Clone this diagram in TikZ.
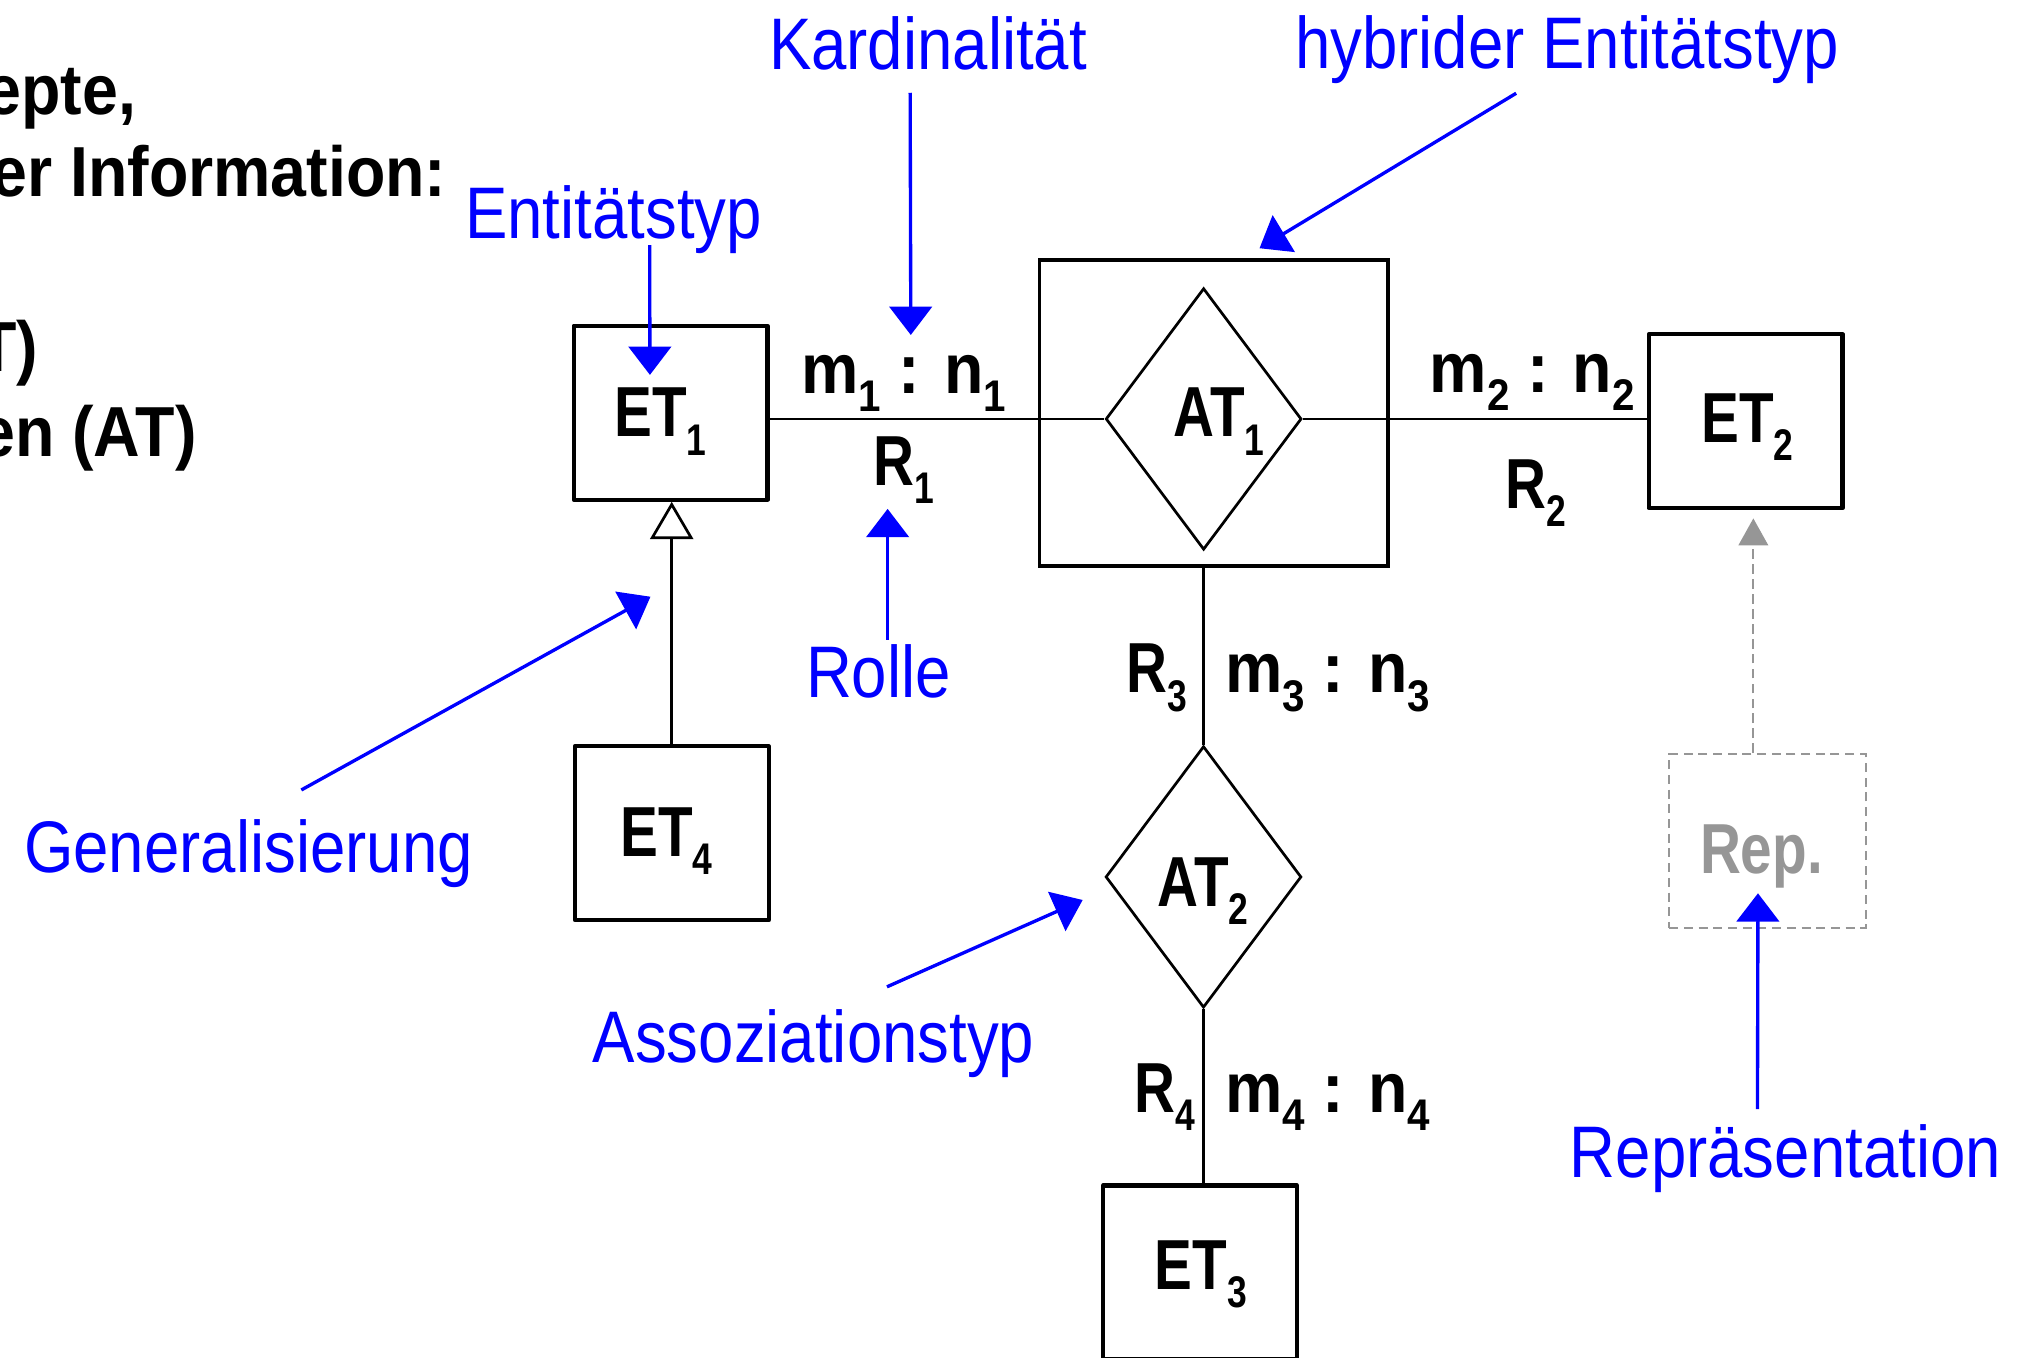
\documentclass[tikz,border=0pt]{standalone}
\usepackage{fontspec}
\setmainfont{Liberation Sans}
\newfontfamily\lblfont{Liberation Sans}[FakeStretch=0.87]
\newfontfamily\narrowbold{Liberation Sans}[FakeStretch=0.8]
\newfontfamily\widebold{Liberation Sans}[FakeStretch=0.91]
\usetikzlibrary{shapes.geometric,arrows.meta}
\definecolor{annot}{RGB}{0,0,255}
\definecolor{repgray}{RGB}{150,150,150}
% lowered index digit
\newcommand{\lo}[1]{\raisebox{-7.1pt}{\fontsize{17.2pt}{17.2pt}\selectfont #1}}
\tikzset{
  etbox/.style={draw, line width=1.6pt, line join=round, minimum width=75.2pt,
    minimum height=67.5pt, inner sep=0pt},
  hybbox/.style={draw, line width=1.3pt, minimum width=135.2pt,
    minimum height=118.75pt, inner sep=0pt},
  relshape/.style={draw, diamond, line width=1.05pt, minimum width=76pt,
    minimum height=101.5pt, inner sep=0pt},
  repbox/.style={draw=repgray, line width=0.8pt, dash pattern=on 3.5pt off 2.2pt,
    minimum width=76.2pt, minimum height=67.5pt, inner sep=0pt},
  conn/.style={line width=1.05pt},
  pointer/.style={draw=annot, line width=1.3pt,
    -{Triangle[length=11pt,width=16.5pt,fill=annot]}},
  reparrow/.style={draw=repgray, line width=0.8pt, dash pattern=on 3.8pt off 2pt,
    -{Triangle[length=10.5pt,width=11.5pt,fill=repgray]}},
  bluetxt/.style={text=annot, anchor=base, inner sep=0pt,
    font=\lblfont\fontsize{28.35pt}{30pt}\selectfont},
  boxtxt/.style={anchor=base, inner sep=0pt,
    font=\narrowbold\bfseries\fontsize{27.5pt}{30pt}\selectfont},
  cardtxt/.style={anchor=base, inner sep=0pt,
    font=\widebold\bfseries\fontsize{27.5pt}{30pt}\selectfont},
  headtxt/.style={anchor=base east, inner sep=0pt,
    font=\widebold\bfseries\fontsize{27.5pt}{30pt}\selectfont},
}
\begin{document}
\begin{tikzpicture}[x=0.5pt,y=-0.5pt]
\useasboundingbox (0,0) rectangle (1568,1054);
\clip (0,0) rectangle (1568,1054);

% heading text running in from the left
\node[headtxt] (h1) at (106,88.5) {epte,};
\node[headtxt] (h2) at (347,152.7) {er Information:};
\node[headtxt] (h3) at (30,288.5) {T)};
\node[headtxt] (h4) at (153,354.5) {en (AT)};

% entity types, hybrid frame, association types, representation
\node[hybbox] (hyb) at (942.2,320.6) {};
\node[etbox] (et1) at (520.6,320.4) {};
\node[etbox] (et2) at (1355,326.9) {};
\node[etbox] (et4) at (521.4,646.8) {};
\node[etbox] (et3) at (931.5,987.7) {};
\node[relshape] (at1) at (934.3,325.2) {};
\node[relshape] (at2) at (934.2,680.7) {};
\node[repbox] (rep) at (1372,652.9) {};

% names
\node[boxtxt] (et1t) at (512.7,339) {ET\lo{1}};
\node[boxtxt] (et2t) at (1356.3,343.6) {ET\lo{2}};
\node[boxtxt] (et3t) at (932,1000.6) {ET\lo{3}};
\node[boxtxt] (et4t) at (517.2,664.7) {ET\lo{4}};
\node[boxtxt] (at1t) at (946.2,339) {AT\lo{1}};
\node[boxtxt] (at2t) at (933.9,703.8) {AT\lo{2}};
\node[boxtxt, text=repgray] (rept) at (1367.3,677.7) {Rep.};

% connections
\draw[conn] (et1.east |- at1.west) -- (at1.west);
\draw[conn] (at1.east) -- (at1.east -| et2.west);
\draw[conn] (at2.north |- hyb.south) -- (at2.north);
\draw[conn] (at2.south) -- (at2.south |- et3.north);
\draw[conn, -{Triangle[length=14.5pt,width=16.7pt,fill=white]}]
  (et4.north) -- (et4.north |- et1.south);
\draw[reparrow, shorten >=3.2pt] ([xshift=-5.5pt]rep.north) -- ([xshift=-5.5pt]rep.north |- et2.south);

% roles and cardinalities
\node[cardtxt] (c1) at (701.4,305.3) {m\lo{1} : n\lo{1}};
\node[boxtxt] (r1) at (701.5,376.5) {R\lo{1}};
\node[cardtxt] (c2) at (1189.3,304.8) {m\lo{2} : n\lo{2}};
\node[boxtxt] (r2) at (1192.5,394.5) {R\lo{2}};
\node[boxtxt, anchor=base east] (r3) at (922,537.8) {R\lo{3}};
\node[cardtxt, anchor=base west] (c3) at (950.5,537.8) {m\lo{3} : n\lo{3}};
\node[boxtxt, anchor=base east] (r4) at (928,863.7) {R\lo{4}};
\node[cardtxt, anchor=base west] (c4) at (950.5,863.7) {m\lo{4} : n\lo{4}};

% explanatory labels
\node[bluetxt] (kard) at (720.4,53.6) {Kardinalität};
\node[bluetxt] (hybl) at (1216.5,53) {hybrider Entitätstyp};
\node[bluetxt] (entl) at (476.2,185) {Entitätstyp};
\node[bluetxt] (roll) at (681.9,541.2) {Rolle};
\node[bluetxt] (genl) at (192.9,677.4) {Generalisierung};
\node[bluetxt] (assl) at (631.5,824.6) {Assoziationstyp};
\node[bluetxt] (repl) at (1385.9,913.9) {Repräsentation};

% pointer ends
\coordinate (kardA) at (706.5,72);     \coordinate (kardB) at (707,260);
\coordinate (hybA) at (1176.9,72.4);   \coordinate (hybB) at (977.7,192.7);
\coordinate (entA) at (504.3,190.2);   \coordinate (entB) at (504.5,291);
\coordinate (rolA) at (689,496.5);     \coordinate (rolB) at (689,395);
\coordinate (genA) at (233.9,613.2);   \coordinate (genB) at (504.9,463.2);
\coordinate (assA) at (688.5,766);     \coordinate (assB) at (840.4,698.6);
\coordinate (repA) at (1364.2,861);    \coordinate (repB) at (1364.6,693.4);

\draw[pointer] (kardA) -- (kardB);
\draw[pointer] (hybA) -- (hybB);
\draw[pointer] (entA) -- (entB);
\draw[pointer] (rolA) -- (rolB);
\draw[pointer] (genA) -- (genB);
\draw[pointer] (assA) -- (assB);
\draw[pointer] (repA) -- (repB);
\end{tikzpicture}
\end{document}
